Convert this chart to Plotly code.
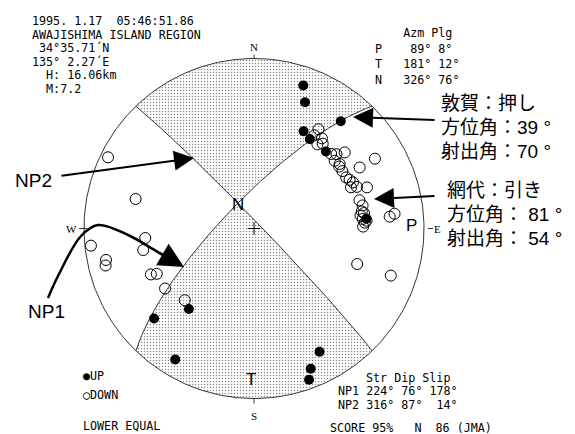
import numpy as np
import plotly.graph_objects as go

W, H = 575, 434
CX, CY, R = 246.0, 220.5, 170.0
MONO = "DejaVu Sans Mono"
SANS = "Liberation Sans, Arial, sans-serif"
JP = "Liberation Sans, Noto Sans CJK JP, sans-serif"

event_lines = ["1995. 1.17  05:46:51.86", "AWAJISHIMA ISLAND REGION", " 34°35.71´N",
               "135° 2.27´E", "  H: 16.06km", "  M:7.2"]

plane_names = ["NP1", "NP2"]
plane_strike = [224, 316]
plane_dip = [76, 87]
plane_slip = [178, 14]

axis_names = ["P", "T", "N"]
axis_azm = [89, 181, 326]
axis_plg = [8, 12, 76]

# first motions: azimuth / take-off angle (deg)
up_azm = [19, 22, 39, 27, 32, 43, 85, 152, 158, 160, 219, 228, 211]
up_toa = [78, 69, 70, 54, 52, 52, 56, 71, 78, 84, 51, 68, 79]

down_azm = [33, 33, 37, 39, 37, 46, 48, 50, 50, 53, 54, 57, 61, 63, 65, 68, 67, 70, 60, 60,
            75, 78, 81, 82, 83, 85, 86, 87, 89, 84, 85, 109, 109,
            296, 284, 265, 259, 264, 258, 256, 246, 245, 236, 224]
down_toa = [59, 55, 56, 54, 52, 53, 55, 59, 52, 53, 52, 52, 52, 53, 54, 55, 52, 60, 61, 71,
            54, 55, 54, 55, 53, 54, 56, 55, 54, 72, 69, 54, 74,
            85, 61, 54, 56, 86, 78, 79, 56, 53, 53, 49]

score_text = "SCORE 95%   N  86 (JMA)"

tsuruga = ["敦賀：押し", "方位角：39 °", "射出角：70 °"]
ajiro = ["網代：引き", "方位角： 81 °", "射出角： 54 °"]


def project(azm, toa):
    az = np.radians(np.asarray(azm, dtype=float))
    r = np.sqrt(2) * np.sin(np.radians(np.asarray(toa, dtype=float)) / 2)
    return CX + R * r * np.sin(az), CY - R * r * np.cos(az)


def plane_vectors(strike, dip):
    s, d = np.radians(strike), np.radians(dip)
    a = np.array([np.cos(s), np.sin(s), 0.0])
    b = np.array([np.cos(d) * np.cos(s + np.pi / 2), np.cos(d) * np.sin(s + np.pi / 2), np.sin(d)])
    return a, b


def plane_curve(strike, dip, t):
    a, b = plane_vectors(strike, dip)
    v = np.outer(np.cos(t), a) + np.outer(np.sin(t), b)
    azm = np.degrees(np.arctan2(v[:, 1], v[:, 0]))
    toa = 90 - np.degrees(np.arcsin(np.clip(v[:, 2], -1, 1)))
    return project(azm, toa)


a1, b1 = plane_vectors(plane_strike[0], plane_dip[0])
a2, b2 = plane_vectors(plane_strike[1], plane_dip[1])
null = np.cross(np.cross(a1, b1), np.cross(a2, b2))
null = null / np.linalg.norm(null)
if null[2] < 0:
    null = -null
t1n = np.arctan2(null @ b1, null @ a1)
t2n = np.arctan2(null @ b2, null @ a2)

s1, s2 = plane_strike


def quadrant(t1a, t1b, arc_from, arc_to, t2a, t2b):
    x1, y1 = plane_curve(s1, plane_dip[0], np.linspace(t1a, t1b, 120))
    xa, ya = project(np.linspace(arc_from, arc_to, 120), np.full(120, 90.0))
    x2, y2 = plane_curve(s2, plane_dip[1], np.linspace(t2a, t2b, 120))
    return np.concatenate([x1, xa, x2]), np.concatenate([y1, ya, y2])


fig = go.Figure()

pattern = dict(shape=".", size=3, solidity=0.2, fgcolor="#111111", bgcolor="white")
for qx, qy in [quadrant(t1n, np.pi, s1 + 180 - 360, s2 - 360, 0, t2n),
               quadrant(t1n, 0, s1, s2 - 180, np.pi, t2n)]:
    fig.add_trace(go.Scatter(x=qx, y=qy, mode="lines", fill="toself", fillpattern=pattern,
                             fillcolor="white", line=dict(width=0, color="rgba(0,0,0,0)"),
                             hoverinfo="skip"))

cx, cy = project(np.linspace(0, 360, 361), np.full(361, 90.0))
fig.add_trace(go.Scatter(x=cx, y=cy, mode="lines", line=dict(color="#333333", width=1)))
for strike, dip in zip(plane_strike, plane_dip):
    px_, py_ = plane_curve(strike, dip, np.linspace(0, np.pi, 200))
    fig.add_trace(go.Scatter(x=px_, y=py_, mode="lines", line=dict(color="#333333", width=1)))

ox, oy = project([0], [0])
fig.add_trace(go.Scatter(x=ox, y=oy, mode="markers",
                         marker=dict(symbol="cross-thin", size=9, line=dict(color="black", width=1))))

dx, dy = project(down_azm, down_toa)
fig.add_trace(go.Scatter(x=dx, y=dy, mode="markers",
                         marker=dict(symbol="circle-open", size=11, color="black", line=dict(width=1))))
ux, uy = project(up_azm, up_toa)
fig.add_trace(go.Scatter(x=ux, y=uy, mode="markers", marker=dict(symbol="circle", size=10, color="black")))

# NP1 callout curve
fig.add_trace(go.Scatter(x=[40, 50, 73, 90, 120, 153, 162], y=[290, 268, 228, 217, 227, 246, 251],
                         mode="lines", line=dict(color="black", width=2.5, shape="spline")))

ann = []


def text(x, y, s, size=11.7, family=MONO, xanchor="left", yanchor="middle"):
    ann.append(dict(x=x, y=y, xref="x", yref="y", text=s.replace(" ", "\u00a0"), showarrow=False,
                    font=dict(size=size, family=family, color="black"),
                    xanchor=xanchor, yanchor=yanchor))


def arrow(tip, tail, width=2):
    ann.append(dict(x=tip[0], y=tip[1], ax=tail[0], ay=tail[1], xref="x", yref="y", axref="x", ayref="y",
                    text="", showarrow=True, arrowhead=2, arrowsize=2, arrowwidth=width,
                    arrowcolor="black", standoff=0, startstandoff=0))


for i, line in enumerate(event_lines):
    text(22, 13 + 13.5 * i, line)

text(365, 25, "    Azm Plg")
for i, (n, a, p) in enumerate(zip(axis_names, axis_azm, axis_plg)):
    text(365, 40.5 + 15.5 * i, f"{n}  {a:>4}° {p}°")

text(356, 370, "Str Dip Slip")
for i, (n, s, d, sl) in enumerate(zip(plane_names, plane_strike, plane_dip, plane_slip)):
    text(328, 383.3 + 13.3 * i, f"{n} {s}° {d}° {sl:>3}°")
text(320, 420, score_text)

text(73, 368, "●UP")
text(73, 386.5, "○DOWN")
text(73, 418, "LOWER EQUAL")

# compass marks
text(CX, CY - R - 12, "N", 11, "Liberation Serif", "center")
text(CX, CY + R + 17, "S", 11, "Liberation Serif", "center")
text(CX - R - 13, CY, "W", 11, "Liberation Serif", "center")
text(CX + R + 13, CY, "E", 11, "Liberation Serif", "center")

# P T N axes
axx, axy = project(axis_azm, 90 - np.asarray(axis_plg))
for n, x, y in zip(axis_names, axx, axy):
    text(x, y, n, 17, SANS, "center")

for i, s in enumerate(tsuruga):
    text(431, 95 + 24 * i, s, 19, JP)
for i, s in enumerate(ajiro):
    text(437, 182 + 24 * i, s, 19, JP)

text(46, 172, "NP2", 19, SANS, "right")
text(38, 303, "NP1", 19, SANS, "center")

arrow((345, 109), (428, 112))
arrow((366, 191), (428, 188))
arrow((186, 150), (52, 168))
arrow((176, 259), (150, 244), 2.5)

shapes = []
for x0, y0, x1, y1 in [(CX, CY - R - 4, CX, CY - R), (CX, CY + R, CX, CY + R + 5),
                       (CX - R - 5, CY, CX - R + 3, CY), (CX + R + 4, CY, CX + R + 9, CY)]:
    shapes.append(dict(type="line", x0=x0, y0=y0, x1=x1, y1=y1, xref="x", yref="y",
                       line=dict(color="#333333", width=1)))

fig.update_layout(
    width=W, height=H, margin=dict(l=0, r=0, t=0, b=0),
    paper_bgcolor="white", plot_bgcolor="white", showlegend=False,
    xaxis=dict(range=[0, W], visible=False, fixedrange=True),
    yaxis=dict(range=[H, 0], visible=False, fixedrange=True),
    annotations=ann, shapes=shapes,
)
fig.write_html("out.html")
